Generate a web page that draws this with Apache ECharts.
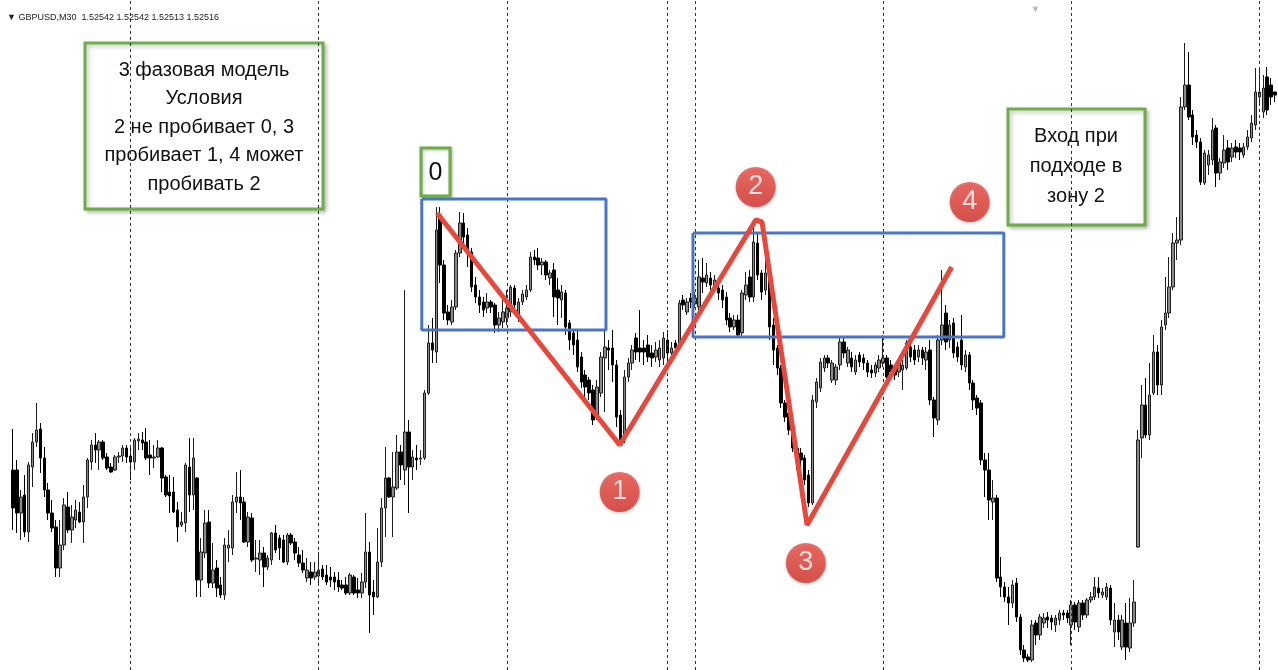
<!DOCTYPE html>
<html>
<head>
<meta charset="utf-8">
<script src="https://cdn.jsdelivr.net/npm/echarts@6/dist/echarts.min.js"></script>
<style>
  html, body { margin: 0; padding: 0; background: #fff; }
  #chart { width: 1278px; height: 670px; }
</style>
</head>
<body>
<div id="chart"></div>
<script>
// GBPUSD M30 bars, values in chart points (0 = bottom edge of the window)
var opens = [200,200,157,175,138,203,228,241,212,180,157,143,102,125,163,140,150,158,148,173,
  208,225,220,228,213,203,200,213,214,222,214,208,229,230,228,215,212,213,222,193,
  178,178,160,145,147,203,175,192,90,117,148,87,102,85,75,122,122,168,173,168,
  128,152,111,110,117,103,110,137,132,130,108,135,128,115,107,92,98,93,94,101,
  95,93,93,90,85,85,77,93,80,77,88,118,78,73,108,162,192,173,182,218,
  200,238,203,212,211,212,277,327,318,455,405,358,348,363,417,447,435,418,385,373,
  368,362,368,365,345,348,352,358,382,352,368,373,380,413,412,405,408,392,400,380,
  370,377,347,337,330,313,295,290,280,255,277,312,322,322,305,255,230,293,307,332,
  322,322,325,317,313,310,312,330,317,327,327,370,358,372,366,363,392,387,392,384,
  382,380,373,352,343,350,337,375,393,373,427,397,380,398,345,322,302,267,257,243,
  222,217,212,195,167,268,282,302,312,290,290,305,328,307,312,298,315,312,307,300,
  297,302,307,312,305,302,298,300,302,323,320,313,320,310,320,270,250,330,357,330,
  347,323,330,303,315,287,272,267,210,200,168,172,93,83,73,67,87,53,20,13,
  10,47,35,47,53,52,45,50,57,57,45,65,43,67,55,70,73,82,75,73,
  82,38,50,23,47,22,47,123,232,265,235,277,318,285,345,357,383,427,430,563,
  585,555,535,528,487,505,510,542,497,507,522,513,523,522,515,523,532,545,573,558,
  593,585,578];
var closes = [162,157,173,138,205,228,240,212,180,157,142,102,125,165,140,153,160,148,173,210,
  225,220,228,212,202,198,213,214,222,213,208,230,231,227,212,212,213,222,192,175,
  174,158,143,148,205,175,212,90,118,147,87,100,82,75,125,125,168,173,167,128,
  153,110,112,117,103,112,137,120,122,108,135,127,117,107,100,100,92,98,100,93,
  88,90,88,83,82,77,95,77,77,88,118,75,73,108,162,192,173,183,218,205,
  238,203,213,210,212,277,327,320,440,405,357,350,363,417,447,433,418,383,373,365,
  360,368,363,345,352,358,362,383,365,368,376,380,413,410,405,408,395,397,373,372,
  378,343,330,325,303,288,283,277,250,283,313,323,320,305,253,230,293,307,320,318,
  318,318,313,312,320,322,332,317,322,322,367,365,368,368,372,393,388,395,385,390,
  377,370,350,343,350,335,377,385,373,428,395,378,397,343,320,302,267,253,240,222,
  213,210,190,167,270,288,308,312,307,307,303,328,317,320,303,310,308,307,298,297,
  305,310,312,293,298,295,307,305,327,313,310,320,312,318,270,252,330,345,328,345,
  317,313,305,315,287,270,262,210,200,170,172,92,83,73,67,85,53,20,12,10,
  45,35,53,52,50,48,52,57,55,52,65,48,67,55,70,73,83,77,78,83,
  50,50,38,50,23,47,68,230,265,235,275,318,285,343,357,383,427,430,563,585,
  553,533,528,488,517,515,540,497,508,520,508,522,518,518,523,533,547,578,578,582,
  560,573,575];
var lows = [140,137,130,133,128,183,223,197,173,150,138,93,93,120,137,127,142,147,127,162,
  200,207,200,210,200,197,199,207,208,207,190,200,220,220,210,195,202,212,178,173,
  157,157,128,143,138,158,160,73,73,112,82,82,73,72,70,108,115,157,150,127,
  123,108,98,95,83,100,105,117,110,107,105,125,110,103,97,88,85,90,87,90,
  85,83,80,78,80,75,75,75,72,72,82,37,55,72,103,133,172,133,180,190,
  185,157,190,200,205,210,275,307,307,387,350,345,345,360,413,420,403,378,367,357,
  353,357,357,337,338,342,345,353,360,348,365,370,378,405,400,395,390,385,353,345,
  352,335,320,315,298,282,268,270,245,250,273,258,300,288,243,225,227,288,300,310,
  308,305,308,303,308,303,305,307,312,318,325,360,355,362,362,360,377,383,380,378,
  370,362,345,338,340,332,333,370,368,368,390,370,375,330,305,295,262,248,235,218,
  200,203,185,163,165,262,278,298,302,287,285,300,312,303,298,295,303,300,293,292,
  293,298,303,288,290,290,293,280,300,308,305,308,305,300,265,233,245,325,320,322,
  312,308,300,298,280,260,255,205,173,150,150,88,73,68,45,62,48,15,8,8,
  8,25,30,42,42,40,38,45,50,47,25,40,38,50,52,67,70,72,72,70,
  45,23,30,20,10,18,43,122,212,232,230,275,275,275,340,352,380,410,425,560,
  550,525,522,485,485,495,505,483,490,502,500,508,512,510,512,520,528,540,565,552,
  555,565,568];
var highs = [241,210,180,195,208,237,267,247,223,187,170,150,150,172,178,165,170,168,185,212,
  230,237,230,230,217,207,215,218,225,225,225,232,237,238,242,230,225,230,223,195,
  195,193,168,158,207,232,232,193,132,160,160,127,110,93,132,140,175,198,200,173,
  158,157,130,130,123,115,138,145,135,135,137,137,132,123,120,112,108,108,118,105,
  105,103,98,98,90,93,97,95,92,97,157,128,90,142,172,223,193,218,235,225,
  380,250,220,225,220,280,345,352,463,463,410,365,370,420,458,457,442,422,393,380,
  373,377,370,367,358,370,380,385,385,372,380,385,418,420,422,412,410,400,407,392,
  385,380,350,340,340,318,300,293,285,290,318,340,330,340,310,260,300,312,325,337,
  360,330,335,325,328,330,338,340,328,330,370,375,372,377,378,410,412,407,398,395,
  390,385,378,357,355,355,380,398,400,442,437,400,425,405,352,325,305,270,262,247,
  227,222,215,200,275,292,312,315,315,310,306,332,333,323,318,315,318,316,310,305,
  308,315,335,315,310,305,312,310,330,328,325,325,323,323,330,273,335,400,365,350,
  352,328,355,320,318,290,275,270,217,217,190,175,113,88,83,90,92,56,25,16,
  50,50,56,57,58,55,55,60,60,60,70,68,70,70,72,78,93,93,82,87,
  85,67,55,55,67,72,90,240,285,292,307,335,325,350,393,413,437,453,573,627,
  618,560,540,532,520,520,552,545,512,535,530,527,530,527,527,540,555,602,600,595,
  603,592,578];

// day separators (bar index)
var separators = [30, 78, 126, 167, 174, 222, 270, 318];
// zigzag 0-1-2-3-4 (bar index, level)
var zigzag = [[108.2, 457], [154.8, 225], [189.5, 450], [191.1, 448], [202.6, 145], [239.5, 403]];
var pointLabels = [[154.8, 178, '1'], [189.5, 483, '2'], [202.3, 107, '3'], [244.1, 468, '4']];
// zones: [leftBar, rightBar, top, bottom]
var zone0 = [104.3, 151.3, 471, 340];
var zone2 = [173.5, 252.8, 437, 333];

var bars = opens.map(function (o, i) { return [o, closes[i], lows[i], highs[i]]; });
var categories = opens.map(function (o, i) { return String(i); });

function boxPath(z) {
  return [[z[0], z[2]], [z[1], z[2]], [z[1], z[3]], [z[0], z[3]], [z[0], z[2]]];
}

var chartDom = document.getElementById('chart');
var myChart = echarts.init(chartDom);
var option;

option = {
  animation: false,
  grid: { left: 11, right: 1, top: 0, bottom: 0 },
  xAxis: [
    { type: 'category', data: categories, show: false, boundaryGap: true },
    { type: 'value', min: -0.5, max: opens.length - 0.5, show: false }
  ],
  yAxis: { type: 'value', min: 0, max: 670, show: false },
  graphic: [
    { type: 'text', left: 7, top: 13, z: 20,
      style: { text: '\u25BC GBPUSD,M30  1.52542 1.52542 1.52513 1.52516', fontSize: 9,
        fontFamily: 'Liberation Sans', fill: '#222' } },
    { type: 'text', left: 1031, top: 5, z: 20,
      style: { text: '\u25BC', fontSize: 9, fill: '#b5b5b5' } },
    { type: 'group', z: 20, children: [
      { type: 'rect', shape: { x: 85, y: 43, width: 238, height: 166 },
        style: { fill: '#fff', stroke: '#6fad46', lineWidth: 3,
          shadowBlur: 4, shadowOffsetX: 2, shadowOffsetY: 2, shadowColor: 'rgba(0,0,0,0.25)' } },
      { type: 'text', style: { x: 204, y: 127, align: 'center', verticalAlign: 'middle',
        text: '3 фазовая модель\nУсловия\n2 не пробивает 0, 3\nпробивает 1, 4 может\nпробивать 2',
        fontSize: 20, lineHeight: 28.5, fontFamily: 'Liberation Sans', fill: '#111' } }
    ] },
    { type: 'group', z: 20, children: [
      { type: 'rect', shape: { x: 421, y: 148, width: 29, height: 48 },
        style: { fill: '#fff', stroke: '#6fad46', lineWidth: 3,
          shadowBlur: 3, shadowOffsetX: 1, shadowOffsetY: 1, shadowColor: 'rgba(0,0,0,0.25)' } },
      { type: 'text', style: { x: 435.5, y: 173, align: 'center', verticalAlign: 'middle',
        text: '0', fontSize: 25, fontFamily: 'Liberation Sans', fill: '#111' } }
    ] },
    { type: 'group', z: 20, children: [
      { type: 'rect', shape: { x: 1008, y: 109, width: 137, height: 116 },
        style: { fill: '#fff', stroke: '#6fad46', lineWidth: 3,
          shadowBlur: 4, shadowOffsetX: 2, shadowOffsetY: 2, shadowColor: 'rgba(0,0,0,0.25)' } },
      { type: 'text', style: { x: 1076, y: 166, align: 'center', verticalAlign: 'middle',
        text: 'Вход при\nподходе в\nзону 2', fontSize: 20, lineHeight: 30,
        fontFamily: 'Liberation Sans', fill: '#111' } }
    ] }
  ],
  series: [
    {
      name: 'GBPUSD',
      type: 'candlestick',
      data: bars,
      barWidth: 3,
      z: 3,
      itemStyle: {
        color: '#8a8a8a',
        borderColor: '#1e1e1e',
        color0: '#000',
        borderColor0: '#000',
        borderWidth: 1
      },
      markLine: {
        silent: true,
        symbol: ['none', 'none'],
        label: { show: false },
        lineStyle: { color: '#333', type: [3, 3], width: 1 },
        data: separators.map(function (s) { return { xAxis: s }; })
      }
    },
    {
      name: 'zone0', type: 'line', xAxisIndex: 1, data: boxPath(zone0),
      symbol: 'none', z: 5, silent: true,
      lineStyle: { color: '#4a74c4', width: 3 }
    },
    {
      name: 'zone2', type: 'line', xAxisIndex: 1, data: boxPath(zone2),
      symbol: 'none', z: 5, silent: true,
      lineStyle: { color: '#4a74c4', width: 3 }
    },
    {
      name: 'zigzag', type: 'line', xAxisIndex: 1, data: zigzag,
      symbol: 'none', z: 6, silent: true,
      lineStyle: { color: '#e8473b', width: 5 }
    },
    {
      name: 'points', type: 'scatter', xAxisIndex: 1, data: pointLabels,
      symbol: 'circle', symbolSize: 40, z: 7, silent: true,
      itemStyle: {
        color: new echarts.graphic.LinearGradient(0, 0, 0, 1, [
          { offset: 0, color: '#ef5148' }, { offset: 1, color: '#d9332d' }
        ]),
        shadowBlur: 3, shadowColor: 'rgba(0,0,0,0.3)', shadowOffsetY: 1
      },
      label: {
        show: true, position: 'inside', color: '#fff', fontSize: 27,
        fontFamily: 'Liberation Sans',
        formatter: function (p) { return p.data[2]; }
      }
    }
  ]
};

option && myChart.setOption(option);
</script>
</body>
</html>
